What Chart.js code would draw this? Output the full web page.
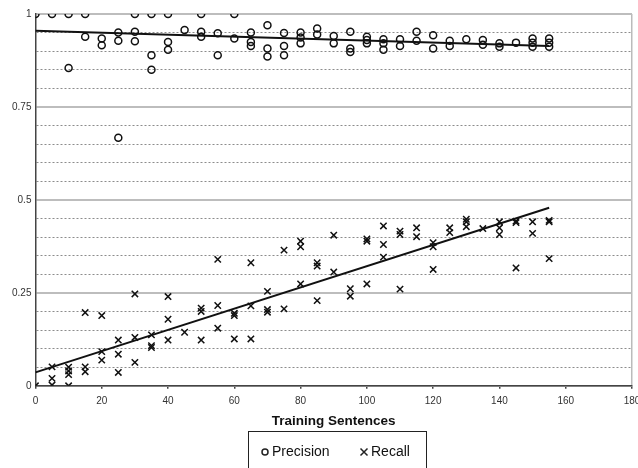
<!DOCTYPE html>
<html>
<head>
<meta charset="utf-8">
<script src="https://cdn.jsdelivr.net/npm/chart.js@4.4.0/dist/chart.umd.min.js"></script>
<style>
  body { margin: 0; background: #fff; }
  canvas { display: block; }
</style>
</head>
<body>
<canvas id="chart" width="638" height="468"></canvas>
<script>
// training sentences (x) and scores
var precisionX = [0, 5, 10, 10, 15, 15, 20, 20, 25, 25, 25, 30, 30, 30, 35, 35, 35, 40, 40, 40,
    45, 50, 50, 50, 55, 55, 60, 60, 65, 65, 65, 70, 70, 70, 75, 75, 75, 80, 80, 80,
    85, 85, 90, 90, 95, 95, 95, 100, 100, 100, 105, 105, 105, 110, 110, 115, 115, 120, 120,
    125, 125, 130, 135, 135, 140, 140, 145, 150, 150, 150, 155, 155, 155];
var precisionY = [1.0, 1.0, 1.0, 0.855, 1.0, 0.939, 0.934, 0.916, 0.95, 0.928, 0.667, 1.0, 0.952, 0.927,
    1.0, 0.889, 0.85, 1.0, 0.925, 0.904, 0.957, 1.0, 0.952, 0.939, 0.948, 0.889, 1.0, 0.934,
    0.95, 0.925, 0.914, 0.97, 0.907, 0.886, 0.949, 0.914, 0.889, 0.95, 0.937, 0.921,
    0.961, 0.945, 0.941, 0.921, 0.952, 0.907, 0.898, 0.939, 0.93, 0.921, 0.932, 0.921, 0.904,
    0.932, 0.914, 0.952, 0.928, 0.943, 0.907, 0.928, 0.914, 0.932, 0.93, 0.917, 0.921, 0.912,
    0.923, 0.934, 0.923, 0.912, 0.934, 0.923, 0.912];

var recallX = [0, 5, 5, 5, 10, 10, 10, 10, 15, 15, 15, 20, 20, 20, 25, 25, 25, 30, 30, 30,
    35, 35, 35, 40, 40, 40, 45, 50, 50, 50, 55, 55, 55, 60, 60, 60, 65, 65, 65, 70, 70, 70,
    75, 75, 80, 80, 80, 85, 85, 85, 90, 90, 95, 95, 100, 100, 100, 105, 105, 105, 110, 110, 110,
    115, 115, 120, 120, 120, 125, 125, 130, 130, 130, 135, 140, 140, 140, 145, 145, 145,
    150, 150, 155, 155, 155];
var recallY = [0, 0.051, 0.02, 0.002, 0.05, 0.04, 0.03, 0, 0.197, 0.051, 0.038, 0.189, 0.092, 0.069,
    0.123, 0.085, 0.036, 0.247, 0.13, 0.063, 0.137, 0.108, 0.103, 0.24, 0.179, 0.123, 0.144,
    0.209, 0.2, 0.123, 0.34, 0.216, 0.155, 0.195, 0.189, 0.126, 0.331, 0.215, 0.126,
    0.254, 0.205, 0.198, 0.365, 0.207, 0.389, 0.374, 0.274, 0.331, 0.322, 0.229, 0.405, 0.306,
    0.261, 0.241, 0.395, 0.389, 0.274, 0.43, 0.38, 0.346, 0.416, 0.407, 0.26, 0.425, 0.401,
    0.385, 0.374, 0.313, 0.425, 0.412, 0.448, 0.441, 0.428, 0.423, 0.441, 0.425, 0.407,
    0.443, 0.439, 0.317, 0.441, 0.41, 0.445, 0.441, 0.342];

// linear trend lines (end points)
var trendX = [0, 155];
var precisionTrend = [0.955, 0.914];
var recallTrend = [0.036, 0.479];

var seriesNames = ['Precision', 'Recall'];
var axisTitle = 'Training Sentences';

function pts(xs, ys) {
    var out = [];
    for (var i = 0; i < xs.length; i++) out.push({x: xs[i], y: ys[i]});
    return out;
}

function isMajor(c) {
    return c.tick && Math.round(c.tick.value * 100) % 25 === 0;
}

var FONT = "'Liberation Sans', Arial, sans-serif";

// legend drawn as a boxed strip under the axis title
var boxLegend = {
    id: 'boxLegend',
    afterDraw: function (chart) {
        var ctx = chart.ctx;
        var cx = (chart.chartArea.left + chart.chartArea.right) / 2;
        var w = 178, top = 431, h = 44;
        var left = Math.round(cx - w / 2 + 3);
        ctx.save();
        ctx.strokeStyle = '#222';
        ctx.lineWidth = 1;
        ctx.strokeRect(left + 0.5, top + 0.5, w, h);
        ctx.font = '14px ' + FONT;
        ctx.fillStyle = '#111';
        ctx.textBaseline = 'middle';
        var ty = 452;
        // circle marker
        ctx.lineWidth = 1.5;
        ctx.beginPath();
        ctx.arc(left + 17, ty, 3, 0, Math.PI * 2);
        ctx.stroke();
        ctx.fillText(seriesNames[0], left + 24, ty);
        // cross marker
        var mx = left + 116;
        ctx.beginPath();
        ctx.moveTo(mx - 3.5, ty - 3.5); ctx.lineTo(mx + 3.5, ty + 3.5);
        ctx.moveTo(mx + 3.5, ty - 3.5); ctx.lineTo(mx - 3.5, ty + 3.5);
        ctx.stroke();
        ctx.fillText(seriesNames[1], mx + 7, ty);
        ctx.restore();
    }
};

var ctx = document.getElementById('chart').getContext('2d');
var chart = new Chart(ctx, {
    type: 'scatter',
    data: {
        datasets: [
            {
                type: 'line',
                label: 'Precision trend',
                data: pts(trendX, precisionTrend),
                borderColor: '#111',
                borderWidth: 2,
                pointRadius: 0,
                fill: false
            },
            {
                type: 'line',
                label: 'Recall trend',
                data: pts(trendX, recallTrend),
                borderColor: '#111',
                borderWidth: 2,
                pointRadius: 0,
                fill: false
            },
            {
                label: seriesNames[0],
                data: pts(precisionX, precisionY),
                pointStyle: 'circle',
                pointRadius: 3.5,
                pointBorderWidth: 1.5,
                borderColor: '#111',
                backgroundColor: 'rgba(0,0,0,0)'
            },
            {
                label: seriesNames[1],
                data: pts(recallX, recallY),
                pointStyle: 'crossRot',
                pointRadius: 4.5,
                pointBorderWidth: 1.5,
                borderColor: '#111',
                backgroundColor: '#111'
            }
        ]
    },
    options: {
        responsive: false,
        animation: false,
        devicePixelRatio: 1,
        layout: { padding: { left: 8, right: 6, top: 14, bottom: 39 } },
        plugins: {
            legend: { display: false },
            tooltip: { enabled: false }
        },
        scales: {
            x: {
                type: 'linear',
                min: 0,
                max: 180,
                afterFit: function (scale) {
                    // let the last label run past the plot edge like the original
                    scale.paddingRight = 0;
                },
                ticks: {
                    stepSize: 20,
                    padding: 6,
                    color: '#333',
                    font: { family: FONT, size: 10 }
                },
                grid: {
                    drawTicks: true,
                    tickLength: 3,
                    tickColor: '#444',
                    color: function (c) {
                        return (c.tick && c.tick.value === 180) ? '#bbb' : 'rgba(0,0,0,0)';
                    },
                    lineWidth: 1.5
                },
                border: { color: '#444', width: 1.5 },
                title: {
                    display: true,
                    text: axisTitle,
                    color: '#111',
                    padding: { top: 0, bottom: 0 },
                    font: { family: FONT, size: 13.5, weight: 'bold' }
                }
            },
            y: {
                min: 0,
                max: 1,
                ticks: {
                    stepSize: 0.05,
                    padding: 4,
                    color: '#333',
                    font: { family: FONT, size: 10 },
                    callback: function (v) {
                        var k = Math.round(v * 100);
                        return k % 25 === 0 ? String(k / 100) : '';
                    }
                },
                grid: {
                    drawTicks: false,
                    color: function (c) {
                        if (!c.tick) return '#999';
                        return isMajor(c) ? '#bdbdbd' : '#8c8c8c';
                    },
                    lineWidth: function (c) {
                        return isMajor(c) ? 2 : 1;
                    }
                },
                border: {
                    color: '#444',
                    width: 1.5,
                    dash: function (c) {
                        if (!c.tick) return [];
                        return isMajor(c) ? [] : [2, 2];
                    }
                }
            }
        }
    },
    plugins: [boxLegend]
});
</script>
</body>
</html>
